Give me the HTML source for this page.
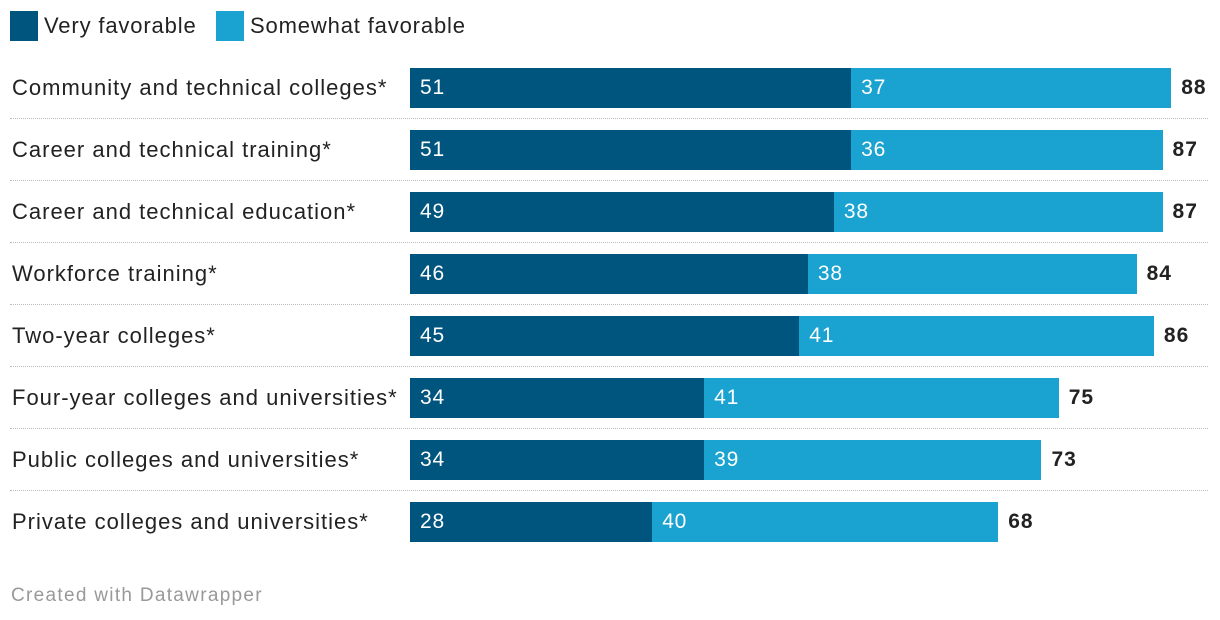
<!DOCTYPE html>
<html><head><meta charset="utf-8"><style>
body{margin:0;background:#fff;width:1220px;height:620px;overflow:hidden;font-family:"Liberation Sans",sans-serif;position:relative}
.leg{position:absolute;top:11px;display:flex;align-items:center;font-size:22px;color:#222;letter-spacing:0.85px}
.sw{width:28px;height:30px;margin-right:6px}
.row{position:absolute;left:0;width:1220px;height:40px}
.lab{position:absolute;left:12px;top:0;line-height:40px;font-size:22px;color:#222;white-space:nowrap;letter-spacing:1px}
.bar{position:absolute;top:0;height:40px;line-height:40px;color:#fff;font-size:21px;box-sizing:border-box;padding-left:10px;letter-spacing:0.8px}
.tot{position:absolute;top:0;line-height:40px;font-size:21px;font-weight:bold;color:#222;letter-spacing:1px}
.sep{position:absolute;left:10px;width:1198px;border-top:1px dotted #bbb}
.foot{position:absolute;left:11px;top:585px;font-size:19px;color:#999;letter-spacing:1.3px}
</style></head><body>
<div class="leg" style="left:10px"><div class="sw" style="background:#00557f"></div>Very favorable</div>
<div class="leg" style="left:216px"><div class="sw" style="background:#1aa3d0"></div>Somewhat favorable</div>
<div id="chart"></div>
<div class="foot">Created with Datawrapper</div>
<script>
const categories=["Community and technical colleges*","Career and technical training*","Career and technical education*","Workforce training*","Two-year colleges*","Four-year colleges and universities*","Public colleges and universities*","Private colleges and universities*"];
const veryValues=[51,51,49,46,45,34,34,28];
const somewhatValues=[37,36,38,38,41,41,39,40];
const totals=[88,87,87,84,86,75,73,68];
const x0=410,k=8.65,top0=68,step=62;
const x=v=>v*k;
const c=document.getElementById('chart');
categories.forEach((cat,i)=>{
  const r=document.createElement('div');r.className='row';r.style.top=(top0+i*step)+'px';
  
  
  const l=document.createElement('div');l.className='lab';l.textContent=cat;
  
  
  const a=document.createElement('div');a.className='bar';a.style.left=x0+'px';a.style.width=x(veryValues[i])+'px';a.style.background='#00557f';a.textContent=veryValues[i];
  
  
  const b=document.createElement('div');b.className='bar';b.style.left=(x0+x(veryValues[i]))+'px';b.style.width=x(somewhatValues[i])+'px';b.style.background='#1aa3d0';b.textContent=somewhatValues[i];
  
  
  const t=document.createElement('div');t.className='tot';t.style.left=(x0+x(veryValues[i]+somewhatValues[i])+10)+'px';t.textContent=totals[i];
  
  
  r.append(l,a,b,t);c.appendChild(r);
  if(i<categories.length-1){const s=document.createElement('div');s.className='sep';s.style.top=(top0+i*step+50)+'px';
  
  
  c.appendChild(s);}
});
</script>
</body></html>
